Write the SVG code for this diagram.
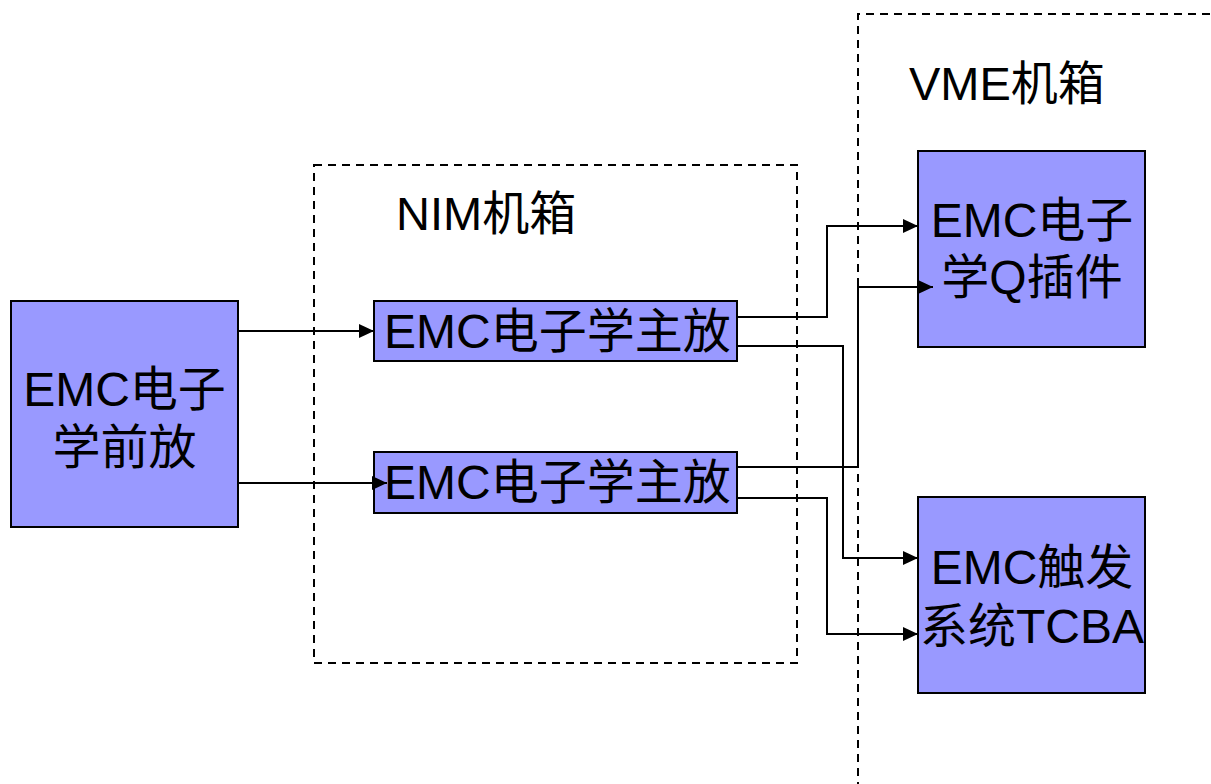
<svg xmlns="http://www.w3.org/2000/svg" width="1211" height="784" viewBox="0 0 1211 784">
  <style>
    .box { fill: #9999ff; stroke: #000; stroke-width: 2; }
    .frame { fill: none; stroke: #000; stroke-width: 2; stroke-dasharray: 8 6; }
    .label { font-family: "Liberation Sans", Arial, "Noto Sans CJK SC", sans-serif; font-size: 48px; fill: #000; }
    .title { font-size: 47px; }
    .mid { text-anchor: middle; }
    .wire { fill: none; stroke: #000; stroke-width: 2; marker-end: url(#arrow); }
  </style>
  <defs>
    <marker id="arrow" markerUnits="userSpaceOnUse" markerWidth="16" markerHeight="16" refX="15" refY="7" orient="auto">
      <path d="M0,0 L15,7 L0,14 z" fill="#000"/>
    </marker>
  </defs>
  <rect width="1211" height="784" fill="#fff"/>

  <!-- chassis frames -->
  <g id="nim-crate">
    <rect class="frame" x="314" y="165" width="483" height="498"/>
    <text class="label title" x="396" y="230">NIM机箱</text>
  </g>
  <g id="vme-crate">
    <path class="frame" d="M858,790 L858,14 L1215,14"/>
    <text class="label title" x="909" y="100">VME机箱</text>
  </g>

  <!-- modules -->
  <g id="preamp">
    <rect class="box" x="11" y="301" width="227" height="226"/>
    <text class="label mid" x="124.5" y="406">EMC电子</text>
    <text class="label mid" x="124.5" y="464">学前放</text>
  </g>
  <g id="main-amp-1">
    <rect class="box" x="374" y="301" width="363" height="60"/>
    <text class="label" x="384" y="348">EMC电子学主放</text>
  </g>
  <g id="main-amp-2">
    <rect class="box" x="374" y="452" width="363" height="61"/>
    <text class="label" x="384" y="499">EMC电子学主放</text>
  </g>
  <g id="q-module">
    <rect class="box" x="918" y="151" width="227" height="196"/>
    <text class="label mid" x="1032" y="237">EMC电子</text>
    <text class="label mid" x="1032" y="294">学Q插件</text>
  </g>
  <g id="trigger-tcba">
    <rect class="box" x="918" y="497" width="227" height="196"/>
    <text class="label mid" x="1032" y="584">EMC触发</text>
    <text class="label mid" x="1032" y="643">系统TCBA</text>
  </g>

  <!-- signal connections -->
  <g id="connectors">
    <path class="wire" d="M238,331 L374,331"/>
    <path class="wire" d="M238,483 L387,483"/>
    <path class="wire" d="M737,317 L827,317 L827,226 L918,226"/>
    <path class="wire" d="M737,346 L843,346 L843,558 L918,558"/>
    <path class="wire" d="M737,467 L858,467 L858,287 L933,287"/>
    <path class="wire" d="M737,498 L827,498 L827,634 L918,634"/>
  </g>
</svg>
